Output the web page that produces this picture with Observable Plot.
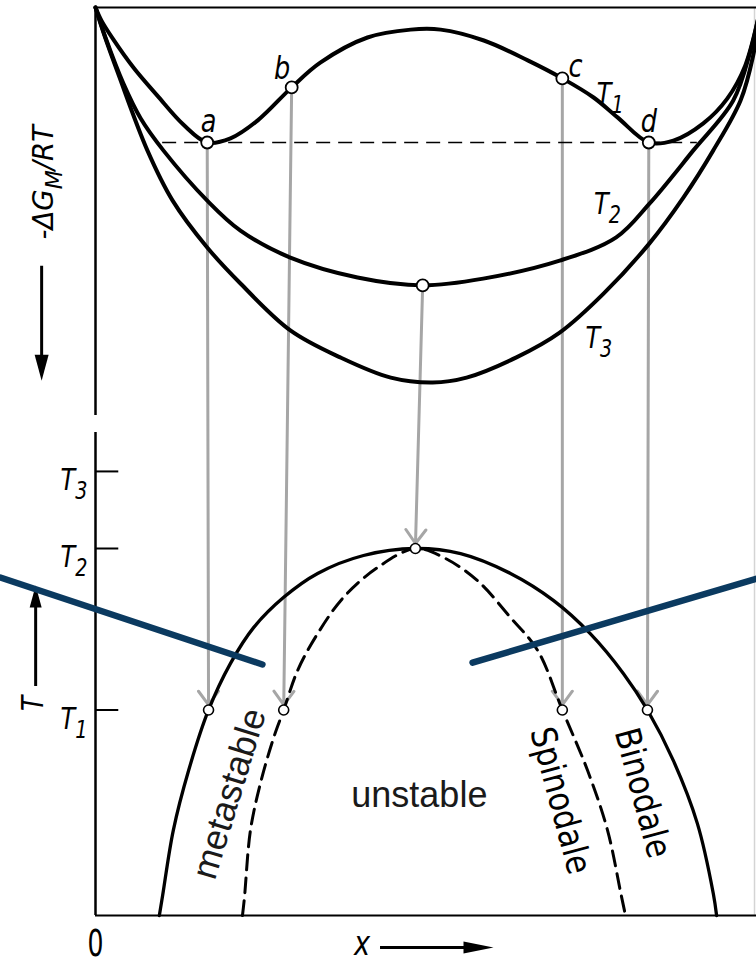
<!DOCTYPE html>
<html>
<head>
<meta charset="utf-8">
<script src="https://cdn.jsdelivr.net/npm/d3@7"></script>
<script src="https://cdn.jsdelivr.net/npm/@observablehq/plot@0.6"></script>
<style>
  html, body { margin: 0; padding: 0; background: #fff; }
  #chart svg { display: block; }
</style>
</head>
<body>
<div id="chart"></div>
<script>
// Composition x runs from 0 to 1.
// Upper panel: -ΔG_M/RT (G = 0 at the frame, growing downward) for T1 < T2 < T3.
// Lower panel: temperature relative to the critical temperature T2.

// ---- upper panel curves
const xT1 = [0, 0.009, 0.026, 0.057, 0.093, 0.132, 0.168, 0.203, 0.244, 0.295, 0.338, 0.409, 0.474, 0.519, 0.584, 0.650, 0.702, 0.749, 0.785, 0.832, 0.869, 0.914, 0.950, 0.977, 1];
const gT1 = [0, 0.035, 0.083, 0.16, 0.235, 0.312, 0.36, 0.349, 0.301, 0.213, 0.147, 0.08, 0.059, 0.059, 0.088, 0.141, 0.189, 0.24, 0.293, 0.36, 0.355, 0.309, 0.243, 0.155, 0];
const xT2 = [0, 0.015, 0.042, 0.068, 0.102, 0.168, 0.218, 0.293, 0.394, 0.492, 0.583, 0.698, 0.783, 0.833, 0.899, 0.959, 0.985, 1];
const gT2 = [0, 0.08, 0.203, 0.296, 0.381, 0.515, 0.595, 0.667, 0.72, 0.741, 0.723, 0.675, 0.613, 0.523, 0.381, 0.248, 0.115, 0];
const xT3 = [0, 0.012, 0.035, 0.078, 0.116, 0.168, 0.218, 0.293, 0.368, 0.444, 0.507, 0.558, 0.633, 0.698, 0.764, 0.833, 0.884, 0.929, 0.970, 0.989, 1];
const gT3 = [0, 0.067, 0.181, 0.381, 0.515, 0.64, 0.736, 0.861, 0.933, 0.987, 1, 0.987, 0.933, 0.867, 0.763, 0.629, 0.507, 0.381, 0.248, 0.128, 0];

// common tangent at T1 (a–d)
const tangentG = 0.36;
const tangentX = [0.101, 0.905];

// ---- lower panel: binodal and spinodal
const xBinodal = [0.096, 0.101, 0.117, 0.140, 0.170, 0.203, 0.238, 0.283, 0.334, 0.403, 0.481, 0.549, 0.624, 0.689, 0.744, 0.794, 0.830, 0.869, 0.905, 0.929, 0.934];
const tBinodal = [0, 0.055, 0.232, 0.395, 0.56, 0.687, 0.785, 0.867, 0.932, 0.981, 1, 0.986, 0.932, 0.858, 0.768, 0.659, 0.56, 0.422, 0.251, 0.06, 0];
const xSpinodal = [0.221, 0.224, 0.233, 0.248, 0.268, 0.283, 0.304, 0.334, 0.373, 0.424, 0.481, 0.523, 0.574, 0.624, 0.665, 0.702, 0.740, 0.770, 0.790, 0.797];
const tSpinodal = [0, 0.049, 0.232, 0.36, 0.485, 0.56, 0.668, 0.768, 0.867, 0.948, 1, 0.976, 0.913, 0.812, 0.722, 0.56, 0.395, 0.232, 0.06, 0];

// marked points: a, b, minimum of T2, c, d — and their projections
const xUpper = [0.168, 0.295, 0.492, 0.702, 0.832];
const gUpper = [0.36, 0.213, 0.741, 0.189, 0.36];
const xLower = [0.170, 0.283, 0.481, 0.702, 0.830];
const tLower = [0.56, 0.56, 1, 0.56, 0.56];

// labels
const letterText = ["a", "b", "c", "d"];
const letterX = [0.170, 0.2805, 0.722, 0.832];
const letterG = [0.304, 0.163, 0.157, 0.304];
const curveText = ["T_1", "T_2", "T_3"];
const curveLabelX = [0.774, 0.770, 0.757];
const curveLabelG = [0.232, 0.525, 0.883];
const tickText = ["T_1", "T_2", "T_3"];
const tickT = [0.56, 1, 1.21];
const phaseText = ["metastable", "unstable"];
const phaseX = [0.2015, 0.487];
const phaseT = [0.332, 0.328];
const phaseAngle = [-73, 0];
const boundaryText = ["Spinodale", "Binodale"];
const boundaryX = [0.699, 0.8226];
const boundaryT = [0.313, 0.334];
const boundaryAngle = [75, 75];

// navy pointer lines
const pointerX = [[-0.143, 0.251], [0.567, 1]];
const pointerT = [[0.921, 0.684], [0.689, 0.921]];

// axis direction arrows
const gArrow = { x: -0.081, g: [0.69, 0.995] };
const tArrow = { x: -0.09, t: [0.624, 0.899] };
const xArrow = { t: -0.087, x: [0.4286, 0.5985] };

// right-hand frame line
const frameRightX = 0.991;

// ---- layout of the two panels on one vertical scale (T units)
const Y_MAX = 915 / 367;
const G_ZERO = 908 / 367;   // frame of the upper panel
const G_UNIT = 375 / 367;
const gy = g => G_ZERO - G_UNIT * g;
const G_AXIS_END = 1.088;
const T_AXIS_END = 1.316;
const X_END = 661 / 665;

const FONT_DIN = '"DejaVu Sans", "Liberation Sans", sans-serif';
const FONT_SANS = '"Liberation Sans", Arial, Helvetica, sans-serif';
const GREY = "#a6a6a6";
const NAVY = "#0b3a60";

const zipPts = (xs, ys, f = v => v) => xs.map((x, i) => ({ x, y: f(ys[i]) }));

const upperCurves = [["T1", xT1, gT1], ["T2", xT2, gT2], ["T3", xT3, gT3]]
  .flatMap(([k, xs, gs]) => xs.map((x, i) => ({ k, x, y: gy(gs[i]) })));
const binodal = zipPts(xBinodal, tBinodal);
const spinodal = zipPts(xSpinodal, tSpinodal);
const upperPts = zipPts(xUpper, gUpper, gy);
const lowerPts = zipPts(xLower, tLower);
const projections = upperPts.map((p, i) => ({ x1: p.x, y1: p.y, x2: lowerPts[i].x, y2: lowerPts[i].y }));
const pointers = pointerX.flatMap((xs, k) => xs.map((x, i) => ({ k, x, y: pointerT[k][i] })));

const headDown = { draw(c) { c.moveTo(0, 0); c.lineTo(-7, -26); c.lineTo(7, -26); c.closePath(); } };
const headUp = { draw(c) { c.moveTo(0, 0); c.lineTo(-6, 22); c.lineTo(6, 22); c.closePath(); } };
const headRight = { draw(c) { c.moveTo(0, 0); c.lineTo(-30, -6); c.lineTo(-30, 6); c.closePath(); } };

// narrow engineering lettering: the class carries the horizontal squeeze in percent
const din = (pct) => ({ fontFamily: FONT_DIN, fill: "black", className: `din-${pct}` });

const chart = Plot.plot({
  width: 756,
  height: 963,
  marginLeft: 95,
  marginRight: 0,
  marginTop: 0,
  marginBottom: 48,
  x: { domain: [0, X_END], axis: null },
  y: { domain: [0, Y_MAX], axis: null },
  style: { background: "white", overflow: "visible" },
  marks: [
    // frame and axes
    Plot.ruleX([frameRightX], { y1: 0, y2: gy(0), stroke: "#d4d4d4", strokeWidth: 1.5 }),
    Plot.ruleY([gy(0)], { x1: 0, x2: 1, stroke: "black", strokeWidth: 2 }),
    Plot.ruleX([0], { y1: gy(0), y2: gy(G_AXIS_END), stroke: "black", strokeWidth: 2.5 }),
    Plot.ruleX([0], { y1: 0, y2: T_AXIS_END, stroke: "black", strokeWidth: 2.5 }),
    Plot.ruleY([0], { x1: 0, x2: 1, stroke: "black", strokeWidth: 2 }),
    Plot.ruleY(tickT, { x1: 0, x2: 0.035, stroke: "black", strokeWidth: 2 }),

    // projections from the free-energy curves to the phase diagram
    Plot.arrow(projections, {
      x1: "x1", y1: "y1", x2: "x2", y2: "y2",
      stroke: GREY, strokeWidth: 3, headAngle: 72, headLength: 8.5, insetEnd: 5
    }),

    // common tangent
    Plot.ruleY([gy(tangentG)], { x1: tangentX[0], x2: tangentX[1], stroke: "black", strokeWidth: 1.6, strokeDasharray: "14,8" }),

    // free-energy curves
    Plot.line(upperCurves, { x: "x", y: "y", z: "k", curve: "catmull-rom", stroke: "black", strokeWidth: 4 }),

    // binodal and spinodal
    Plot.line(binodal, { x: "x", y: "y", curve: "catmull-rom", stroke: "black", strokeWidth: 3.3 }),
    Plot.line(spinodal, { x: "x", y: "y", curve: "catmull-rom", stroke: "black", strokeWidth: 3, strokeDasharray: "15,8" }),

    // marked points
    Plot.dot(upperPts, { x: "x", y: "y", r: 6, fill: "white", stroke: "black", strokeWidth: 1.8 }),
    Plot.dot(lowerPts, { x: "x", y: "y", r: 5, fill: "white", stroke: "black", strokeWidth: 1.6 }),

    // point and curve labels
    Plot.text(letterText, { x: (d, i) => letterX[i], y: (d, i) => gy(letterG[i]), text: d => d, ...din(80), fontSize: 32, fontStyle: "italic" }),
    Plot.text(curveText, { x: (d, i) => curveLabelX[i], y: (d, i) => gy(curveLabelG[i]), text: d => d, ...din(80), fontSize: 30, fontStyle: "italic" }),

    // temperature ticks
    Plot.text(tickText, { x: 0, y: (d, i) => tickT[i], text: d => d, ...din(80), fontSize: 30, fontStyle: "italic", textAnchor: "end", dx: -8, dy: 9 }),

    // axis titles and direction arrows
    Plot.text(["-ΔG_M/RT"], { x: -0.078, y: gy(0.466), text: d => d, ...din(95), fontSize: 29, fontStyle: "italic", rotate: -90 }),
    Plot.ruleX([gArrow.x], { y1: gy(gArrow.g[0]), y2: gy(gArrow.g[1]) + 0.05, stroke: "black", strokeWidth: 3 }),
    Plot.dot([gArrow], { x: "x", y: d => gy(d.g[1]), symbol: headDown, fill: "black", stroke: "none" }),

    Plot.text(["T"], { x: -0.0933, y: 0.578, text: d => d, ...din(80), fontSize: 31, fontStyle: "italic", rotate: -90 }),
    Plot.ruleX([tArrow.x], { y1: tArrow.t[0], y2: tArrow.t[1] - 0.04, stroke: "black", strokeWidth: 3 }),
    Plot.dot([tArrow], { x: "x", y: d => d.t[1], symbol: headUp, fill: "black", stroke: "none" }),

    Plot.text(["0"], { x: 0, y: 0, text: d => d, ...din(68), fontSize: 37, dy: 29 }),
    Plot.text(["x"], { x: 0.401, y: -0.077, text: d => d, ...din(80), fontSize: 34, fontStyle: "italic" }),
    Plot.ruleY([xArrow.t], { x1: xArrow.x[0], x2: xArrow.x[1] - 0.03, stroke: "black", strokeWidth: 3 }),
    Plot.dot([xArrow], { x: d => d.x[1], y: "t", symbol: headRight, fill: "black", stroke: "none" }),

    // region names
    Plot.text(phaseText, {
      x: (d, i) => phaseX[i], y: (d, i) => phaseT[i], text: d => d,
      rotate: (d, i) => phaseAngle[i], fontFamily: FONT_SANS, fontSize: 36, fill: "#1a1a1a"
    }),
    Plot.text(boundaryText, {
      x: (d, i) => boundaryX[i], y: (d, i) => boundaryT[i], text: d => d,
      rotate: (d, i) => boundaryAngle[i], ...din(87), fontSize: 35
    }),

    // navy pointer lines
    Plot.line(pointers, { x: "x", y: "y", z: "k", stroke: NAVY, strokeWidth: 6.5 })
  ]
});

// turn "T_1" style strings into a base and a lowered subscript
function applySubscripts(svg) {
  const NS = "http://www.w3.org/2000/svg";
  for (const t of svg.querySelectorAll("text")) {
    const m = /^(.*?)_(.)(.*)$/.exec(t.textContent);
    if (!m) continue;
    while (t.firstChild) t.removeChild(t.firstChild);
    const base = document.createElementNS(NS, "tspan");
    base.textContent = m[1];
    const sub = document.createElementNS(NS, "tspan");
    sub.textContent = m[2];
    sub.setAttribute("font-size", "80%");
    sub.setAttribute("dy", "0.38em");
    t.append(base, sub);
    if (m[3]) {
      const rest = document.createElementNS(NS, "tspan");
      rest.textContent = m[3];
      rest.setAttribute("dy", "-0.304em");
      t.append(rest);
    }
  }
}

// narrow the lettering along its reading direction, keeping its anchor in place
function squeeze(svg) {
  for (const g of svg.querySelectorAll("[class*='din-']")) {
    const m = /din-(\d+)/.exec(g.getAttribute("class"));
    if (!m) continue;
    const f = +m[1] / 100;
    for (const t of g.querySelectorAll("text")) {
      const tr = t.getAttribute("transform") || "";
      t.setAttribute("transform", `${tr} scale(${f},1)`);
    }
  }
}

applySubscripts(chart);
squeeze(chart);

document.getElementById("chart").append(chart);
</script>
</body>
</html>
